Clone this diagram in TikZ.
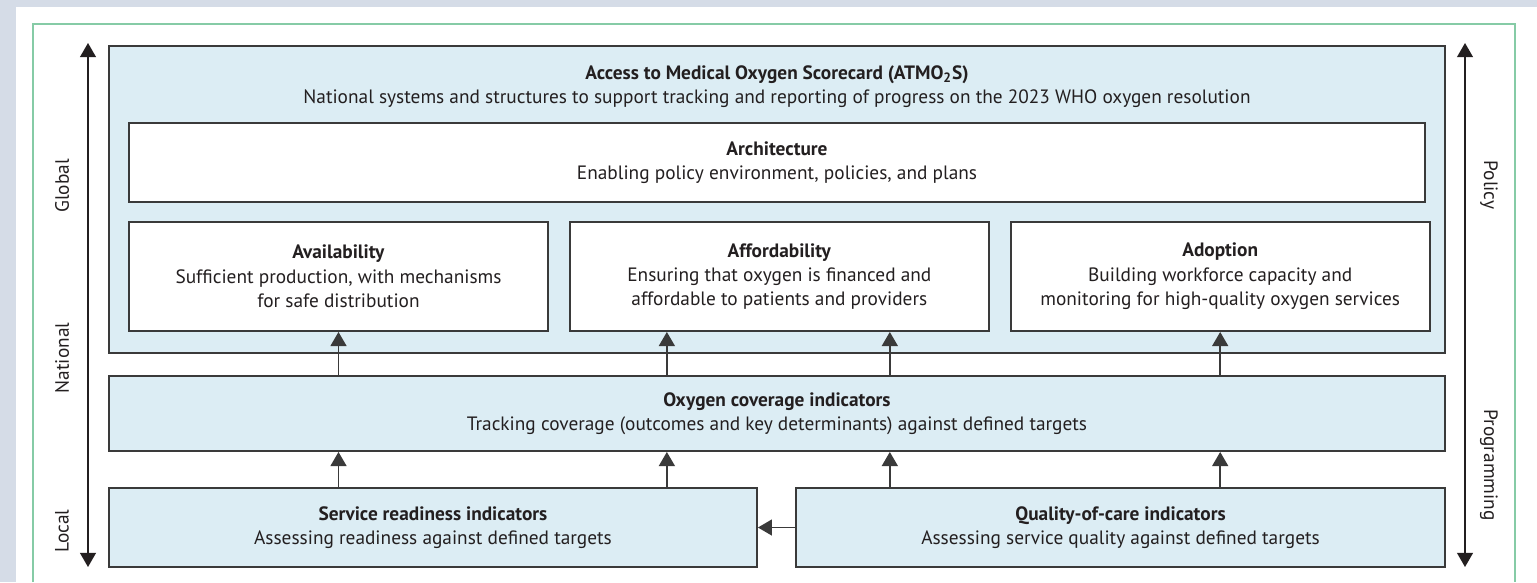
\documentclass[tikz,border=0pt]{standalone}
\usepackage{fontspec}
\setmainfont{PT Sans}
\usetikzlibrary{arrows.meta,positioning}

\definecolor{boxblue}{HTML}{DCEDF4}
\definecolor{boxline}{HTML}{3A3A3A}
\definecolor{inkgray}{HTML}{231F20}
\definecolor{rulegreen}{HTML}{86CBA6}
\definecolor{backdrop}{HTML}{D5DCE7}

\begin{document}
\begin{tikzpicture}[x=0.02cm, y=-0.02cm,
  every node/.style={text=inkgray, align=center, font=\fontsize{11pt}{13.9pt}\selectfont},
  panel/.style={draw=boxline, line width=1.1pt, fill=boxblue, inner sep=0pt},
  card/.style={panel, fill=white},
  uparrow/.style={draw=boxline, line width=1.1pt, -{Triangle[width=9pt,length=8pt]}},
  scalearrow/.style={draw=inkgray, line width=0.8pt,
    {Triangle[width=9pt,length=8pt]}-{Triangle[width=9pt,length=8pt]}},
  axislabel/.style={inner sep=0pt}]

  \useasboundingbox (0,0) rectangle (1537,582);

  % Page and frame
  \fill[backdrop] (0,0) rectangle (1537,582);
  \fill[white] (16,7) rectangle (1537,582);
  \draw[rulegreen, line width=1.1pt] (33,582) |- (1515,24) -- (1515,582);

  % Scorecard panel with its four domains
  \node[panel, minimum width=26.72cm, minimum height=6.14cm] (atmo) at (777,199.5) {};
  \node (atmotitle) at (777,86.5)
    {\textbf{Access to Medical Oxygen Scorecard (ATMO\textsubscript{2}S)}\\
     National systems and structures to support tracking and reporting of progress on the 2023 WHO oxygen resolution};
  \node[card, minimum width=25.92cm, minimum height=1.58cm] (arch) at (777,162.5)
    {\textbf{Architecture}\\Enabling policy environment, policies, and plans};
  \node[card, minimum width=8.38cm, minimum height=2.18cm] (avail) at (338.5,276.5)
    {\textbf{Availability}\\Sufficient production, with mechanisms\\for safe distribution};
  \node[card, minimum width=8.38cm, minimum height=2.18cm, right=0.4cm of avail] (afford)
    {\textbf{Affordability}\\Ensuring that oxygen is financed and\\affordable to patients and providers};
  \node[card, minimum width=8.38cm, minimum height=2.18cm, right=0.4cm of afford] (adopt)
    {\textbf{Adoption}\\Building workforce capacity and\\monitoring for high-quality oxygen services};

  % Indicator tiers
  \node[panel, minimum width=26.72cm, minimum height=1.5cm] (cover) at (777,413.5)
    {\textbf{Oxygen coverage indicators}\\Tracking coverage (outcomes and key determinants) against defined targets};
  \node[panel, minimum width=12.96cm, minimum height=1.58cm] (ready) at (433,527.5)
    {\textbf{Service readiness indicators}\\Assessing readiness against defined targets};
  \node[panel, minimum width=12.98cm, minimum height=1.58cm] (quality) at (1120.5,527.5)
    {\textbf{Quality-of-care indicators}\\Assessing service quality against defined targets};

  % Upward links
  \coordinate (a1) at (avail.south);
  \coordinate (a2) at ([xshift=-2.25cm]afford.south);
  \coordinate (a3) at ([xshift=2.21cm]afford.south);
  \coordinate (a4) at (adopt.south);
  \foreach \c in {a1,a2,a3,a4}
    \draw[uparrow] (\c |- cover.north) -- (\c);
  \foreach \c/\src in {a1/ready,a2/ready,a3/quality,a4/quality}
    \draw[uparrow] (\c |- \src.north) -- (\c |- cover.south);
  \draw[uparrow] (quality.west) -- (ready.east);

  % Side scales
  \coordinate (ltop) at (88,43);
  \coordinate (lbot) at (88,567);
  \coordinate (rtop) at (1465,43);
  \coordinate (rbot) at (1465,567);
  \draw[scalearrow] (lbot) -- (ltop);
  \draw[scalearrow] (rbot) -- (rtop);

  \node[axislabel, rotate=90] (global) at (62,186) {Global};
  \node[axislabel, rotate=90] (national) at (62,358) {National};
  \node[axislabel, rotate=90] (local) at (62,531) {Local};
  \node[axislabel, rotate=-90] (policy) at (1489,185) {Policy};
  \node[axislabel, rotate=-90] (programming) at (1489,465) {Programming};

\end{tikzpicture}
\end{document}
